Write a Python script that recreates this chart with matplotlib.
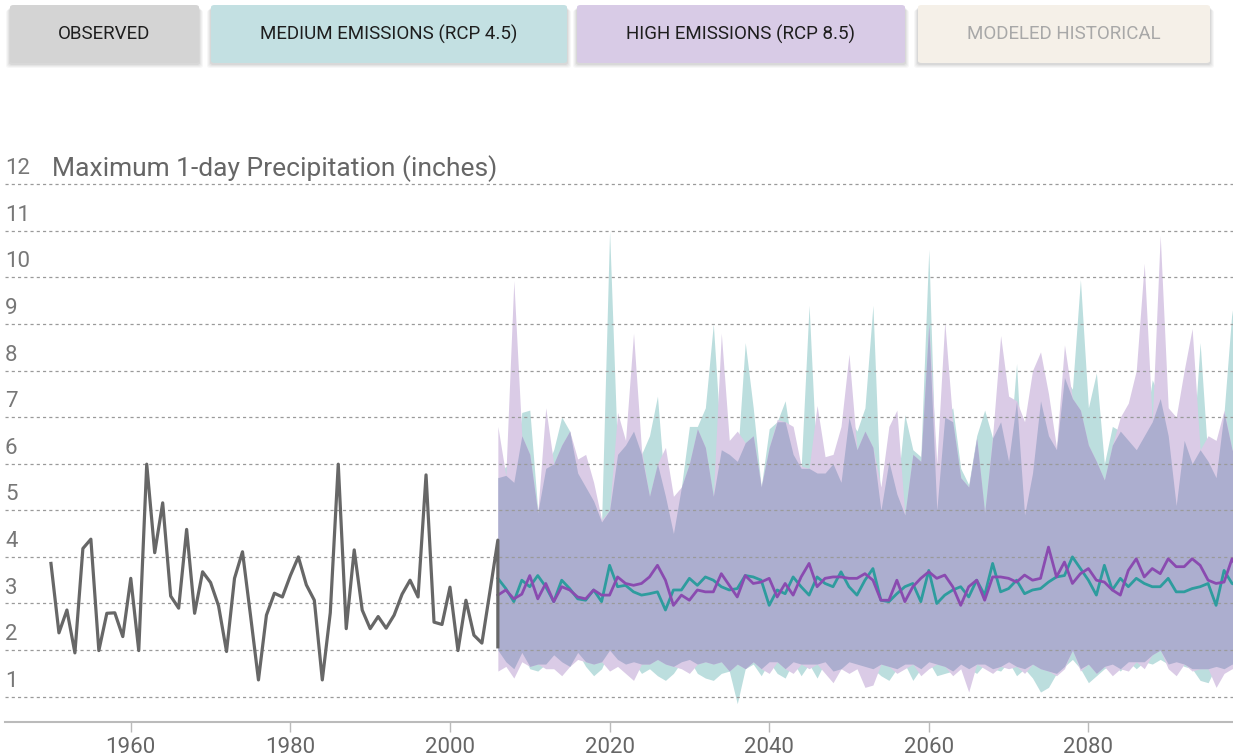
import numpy as np
import matplotlib.pyplot as plt
from matplotlib.patches import FancyBboxPatch

# observed annual max 1-day precipitation (inches); last point repeats 2006 (vertical drop in source)
obs_years = list(range(1950, 2007)) + [2006]
obs_vals = [3.86, 2.37, 2.86, 1.94, 4.18, 4.38, 1.99, 2.79, 2.80, 2.29,
            3.54, 1.99, 5.99, 4.09, 5.16, 3.16, 2.90, 4.59, 2.79, 3.68,
            3.45, 2.95, 1.97, 3.54, 4.11, 2.75, 1.36, 2.75, 3.22, 3.14,
            3.60, 4.00, 3.40, 3.07, 1.36, 2.80, 5.99, 2.46, 4.15, 2.86,
            2.46, 2.72, 2.47, 2.75, 3.20, 3.50, 3.14, 5.76, 2.60, 2.55,
            3.35, 1.99, 3.07, 2.32, 2.15, 3.25, 4.36, 2.07]

proj_years = list(range(2006, 2100))

rcp45_hi = [5.7, 5.95, 5.6, 7.1, 7.15, 5.0, 5.9, 6.3, 7.0, 6.7,
            5.8, 5.5, 5.2, 4.75, 11.0, 6.2, 6.4, 6.7, 6.2, 6.6,
            7.45, 5.3, 4.5, 5.5, 6.8, 6.8, 7.2, 9.0, 6.3, 6.2,
            6.05, 8.6, 7.2, 5.5, 6.75, 6.9, 7.35, 6.2, 5.9, 9.4,
            5.8, 5.8, 6.0, 5.6, 7.0, 6.7, 7.2, 9.4, 5.0, 6.05,
            5.35, 7.05, 6.3, 6.15, 10.6, 5.0, 7.0, 7.2, 5.9, 5.55,
            6.6, 7.15, 6.55, 6.9, 6.05, 8.15, 4.9, 5.8, 7.35, 6.6,
            6.3, 7.85, 7.6, 9.95, 7.2, 7.95, 6.0, 6.8, 6.7, 6.5,
            6.3, 6.6, 7.8, 7.4, 6.6, 5.1, 6.5, 6.0, 8.6, 6.05,
            5.7, 7.1, 9.3, 7.0]
rcp45_lo = [2.0, 1.75, 1.6, 1.95, 1.6, 1.55, 1.7, 1.9, 1.75, 1.65,
            1.95, 1.65, 1.45, 1.6, 2.0, 1.8, 1.7, 1.75, 1.5, 1.6,
            1.45, 1.35, 1.5, 1.75, 1.8, 1.5, 1.4, 1.35, 1.5, 1.55,
            0.85, 1.6, 1.7, 1.45, 1.75, 1.5, 1.4, 1.75, 1.45, 1.7,
            1.4, 1.75, 1.55, 1.6, 1.75, 1.7, 1.65, 1.6, 1.45, 1.35,
            1.6, 1.7, 1.35, 1.6, 1.75, 1.45, 1.5, 1.55, 1.7, 1.6,
            1.5, 1.7, 1.6, 1.55, 1.75, 1.45, 1.6, 1.4, 1.1, 1.2,
            1.5, 1.65, 1.8, 1.6, 1.3, 1.45, 1.6, 1.7, 1.55, 1.75,
            1.6, 1.75, 1.7, 1.8, 1.7, 1.75, 1.65, 1.6, 1.35, 1.3,
            1.65, 1.6, 1.7, 1.6]
rcp45_med = [3.54, 3.32, 3.04, 3.5, 3.36, 3.6, 3.36, 3.04, 3.5, 3.32,
             3.1, 3.07, 3.29, 3.04, 3.82, 3.36, 3.39, 3.25, 3.18, 3.21,
             3.25, 2.86, 3.29, 3.29, 3.54, 3.39, 3.57, 3.5, 3.36, 3.29,
             3.32, 3.6, 3.57, 3.5, 2.96, 3.29, 3.21, 3.57, 3.36, 3.18,
             3.57, 3.43, 3.36, 3.68, 3.36, 3.18, 3.5, 3.75, 3.07, 3.04,
             3.21, 3.36, 3.43, 3.04, 3.71, 3.0, 3.18, 3.29, 3.36, 3.14,
             3.5, 3.18, 3.86, 3.25, 3.32, 3.5, 3.21, 3.29, 3.32, 3.46,
             3.57, 3.6, 4.0, 3.75, 3.5, 3.18, 3.82, 3.29, 3.54, 3.36,
             3.54, 3.43, 3.36, 3.36, 3.54, 3.25, 3.25, 3.32, 3.36, 3.43,
             2.96, 3.71, 3.43, 3.36]

rcp85_hi = [6.8, 5.75, 9.93, 6.6, 6.2, 4.95, 7.2, 6.0, 6.4, 6.7,
            6.1, 6.2, 5.6, 4.8, 5.0, 7.1, 6.5, 8.8, 6.3, 5.3,
            6.0, 6.35, 5.3, 5.5, 6.0, 6.75, 6.35, 5.3, 8.8, 6.5,
            6.7, 6.45, 6.6, 5.5, 6.35, 6.95, 6.9, 6.8, 5.95, 5.9,
            7.25, 6.15, 6.2, 6.8, 8.35, 6.3, 6.7, 6.35, 5.5, 6.8,
            7.15, 4.9, 6.2, 6.05, 9.0, 6.0, 9.05, 6.9, 5.7, 5.5,
            6.55, 4.95, 6.6, 8.75, 7.45, 7.35, 6.9, 8.0, 8.4, 7.5,
            6.35, 8.55, 7.4, 7.15, 6.4, 6.05, 5.65, 6.4, 7.0, 7.3,
            8.0, 10.3, 6.9, 10.9, 7.2, 7.0, 8.0, 8.9, 6.3, 6.6,
            6.5, 7.15, 6.3, 6.0]
rcp85_lo = [1.55, 1.65, 1.4, 1.75, 1.65, 1.7, 1.6, 1.6, 1.45, 1.65,
            1.8, 1.75, 1.7, 1.75, 1.55, 1.65, 1.5, 1.35, 1.7, 1.7,
            1.8, 1.7, 1.65, 1.6, 1.5, 1.7, 1.75, 1.7, 1.75, 1.55,
            1.7, 1.6, 1.75, 1.6, 1.5, 1.75, 1.6, 1.5, 1.7, 1.6,
            1.7, 1.5, 1.3, 1.6, 1.5, 1.6, 1.2, 1.25, 1.7, 1.65,
            1.5, 1.6, 1.7, 1.45, 1.6, 1.7, 1.65, 1.45, 1.6, 1.1,
            1.7, 1.6, 1.5, 1.65, 1.6, 1.65, 1.5, 1.7, 1.6, 1.55,
            1.45, 1.6, 2.0, 1.55, 1.7, 1.5, 1.65, 1.45, 1.6, 1.55,
            1.75, 1.6, 1.9, 2.0, 1.6, 1.45, 1.7, 1.55, 1.6, 1.6,
            1.2, 1.5, 1.6, 1.55]
rcp85_med = [3.18, 3.29, 3.1, 3.2, 3.6, 3.1, 3.43, 3.04, 3.36, 3.29,
             3.14, 3.1, 3.29, 3.18, 3.18, 3.57, 3.43, 3.39, 3.43, 3.57,
             3.82, 3.5, 2.96, 3.18, 3.07, 3.29, 3.25, 3.25, 3.64, 3.39,
             3.14, 3.6, 3.43, 3.46, 3.54, 3.14, 3.43, 3.18, 3.57, 3.86,
             3.36, 3.54, 3.57, 3.57, 3.54, 3.54, 3.64, 3.5, 3.07, 3.07,
             3.5, 3.04, 3.36, 3.54, 3.68, 3.54, 3.61, 3.36, 2.96, 3.36,
             3.5, 3.07, 3.57, 3.57, 3.54, 3.46, 3.61, 3.5, 3.54, 4.21,
             3.57, 3.89, 3.43, 3.64, 3.75, 3.5, 3.46, 3.29, 3.18, 3.71,
             3.96, 3.57, 3.75, 3.64, 3.96, 3.79, 3.79, 3.96, 3.82, 3.5,
             3.43, 3.46, 3.96, 3.64]

buttons = ["OBSERVED", "MEDIUM EMISSIONS (RCP 4.5)", "HIGH EMISSIONS (RCP 8.5)", "MODELED HISTORICAL"]
y_ticks = list(range(1, 13))
x_ticks = [1960, 1980, 2000, 2020, 2040, 2060, 2080]
title = "Maximum 1-day Precipitation (inches)"

TEAL_FILL = "#bcdede"
PURPLE_FILL = "#dacbe6"
BOTH_FILL = "#acaecf"
TEAL_LINE = "#2e9c9e"
PURPLE_LINE = "#8a4bb0"
OBS_LINE = "#676767"

plt.rcParams["font.family"] = ["Roboto", "DejaVu Sans"]

W, H = 1233, 756
fig = plt.figure(figsize=(W / 100, H / 100), dpi=100)

# --- toggle buttons along the top (pixel boxes: x0, x1; top/bottom below)
btn_boxes = [(10, 199), (211, 567), (577, 905), (918, 1210)]
btn_colors = ["#d4d4d4", "#c3e0e2", "#d8cbe6", "#f5f0e8"]
btn_text = ["#1e1e1e", "#1e1e1e", "#1e1e1e", "#a8a8a8"]
top, bottom = 5, 63
for (x0, x1), fc, tc, label in zip(btn_boxes, btn_colors, btn_text, buttons):
    for i, a in enumerate([0.05, 0.04, 0.035, 0.03]):
        g = i + 1
        sh = FancyBboxPatch(((x0 - g) / W, 1 - (bottom + 1 + g) / H), (x1 - x0 + 2 * g) / W,
                            (bottom - top) / H, boxstyle="round,pad=0,rounding_size=0.003",
                            transform=fig.transFigure, fc="#000000", ec="none", alpha=a)
        fig.patches.append(sh)
    box = FancyBboxPatch((x0 / W, 1 - bottom / H), (x1 - x0) / W, (bottom - top) / H,
                         boxstyle="round,pad=0,rounding_size=0.003",
                         transform=fig.transFigure, fc=fc, ec="none")
    fig.patches.append(box)
    fig.text((x0 + x1) / 2 / W, 1 - 34 / H, label, ha="center", va="center",
             fontsize=13.5, color=tc)

# --- main chart
ax = fig.add_axes([5 / W, 1 - 722 / H, 1228 / W, (722 - 165) / H])
ax.set_xlim(1944.24, 2098.12)
ax.set_ylim(0.457, 12.41)

yrs = np.array(proj_years)
t_hi, t_lo = np.array(rcp45_hi), np.array(rcp45_lo)
p_hi, p_lo = np.array(rcp85_hi), np.array(rcp85_lo)
ax.fill_between(yrs, t_lo, t_hi, color=TEAL_FILL, lw=0, zorder=1)
ax.fill_between(yrs, p_lo, p_hi, color=PURPLE_FILL, lw=0, zorder=1.2)
both_lo = np.maximum(t_lo, p_lo)
both_hi = np.minimum(t_hi, p_hi)
ax.fill_between(yrs, both_lo, both_hi, color=BOTH_FILL, lw=0, zorder=1.4)

for v in y_ticks:
    ax.axhline(v, color="#9a9a9a", lw=0.9, ls=(0, (2.5, 2.5)), zorder=2)
    ax.text(0.0, v + 0.33, str(v), transform=ax.get_yaxis_transform(),
            ha="left", va="center", fontsize=16, color="#777777")

ax.plot(yrs, rcp45_med, color=TEAL_LINE, lw=2.0, zorder=3)
ax.plot(yrs, rcp85_med, color=PURPLE_LINE, lw=2.0, zorder=3.2)
ax.plot(obs_years, obs_vals, color=OBS_LINE, lw=2.3, zorder=3.4)

ax.text(0.038, 12 + 0.33, title, transform=ax.get_yaxis_transform(),
        ha="left", va="center", fontsize=19, color="#666666")

for s in ["top", "right", "left"]:
    ax.spines[s].set_visible(False)
ax.spines["bottom"].set_color("#bbbbbb")
ax.spines["bottom"].set_linewidth(1.5)
ax.set_yticks([])
ax.set_xticks(x_ticks)
ax.tick_params(axis="x", length=7, width=1, color="#bbbbbb", labelcolor="#666666",
               labelsize=16, pad=4)

fig.savefig("out.png", dpi=100)
